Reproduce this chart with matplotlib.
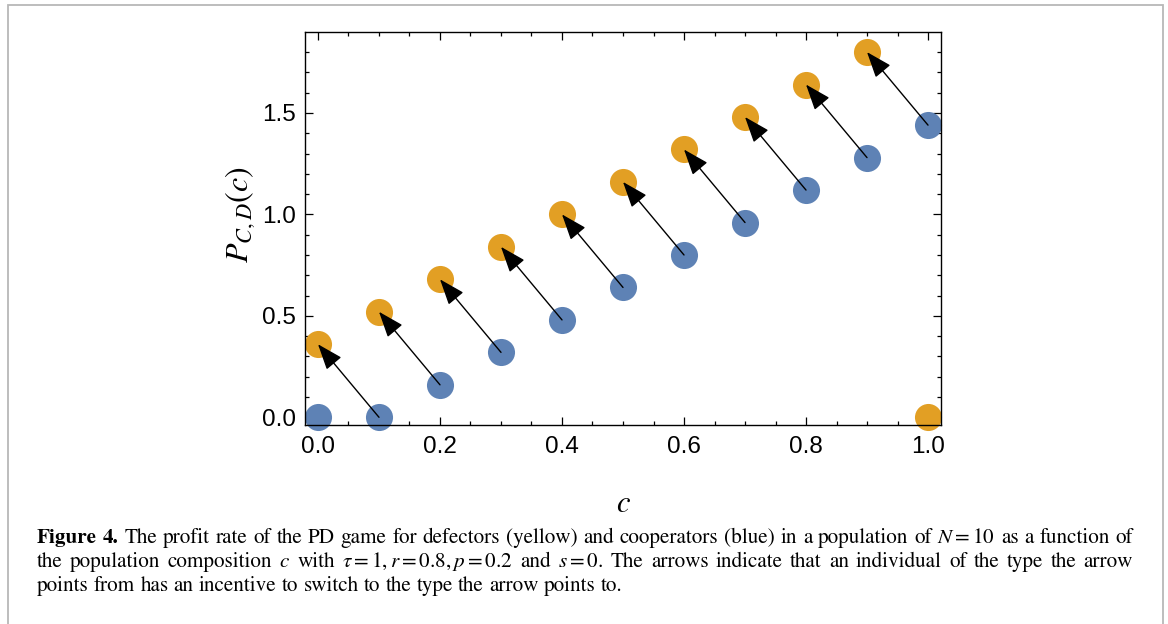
import matplotlib
matplotlib.use("Agg")
import matplotlib.pyplot as plt
from matplotlib.ticker import MultipleLocator
from matplotlib.patches import Rectangle

# ---- data ----
c_values = [0.0, 0.1, 0.2, 0.3, 0.4, 0.5, 0.6, 0.7, 0.8, 0.9, 1.0]
P_defectors = [0.36, 0.52, 0.68, 0.84, 1.00, 1.16, 1.32, 1.48, 1.64, 1.80, 0.0]
P_cooperators = [0.0, 0.0, 0.16, 0.32, 0.48, 0.64, 0.80, 0.96, 1.12, 1.28, 1.44]
x_ticks = [0.0, 0.2, 0.4, 0.6, 0.8, 1.0]
y_ticks = [0.0, 0.5, 1.0, 1.5]

yellow = "#E29F24"
blue = "#5E82B5"

plt.rcParams["mathtext.fontset"] = "stix"

W, H = 1168, 624
fig = plt.figure(figsize=(W / 100, H / 100), dpi=100)

# page frame
fig.patches.append(Rectangle((7.5 / W, -0.1), (1163 - 7.5) / W, 1.1 - 4.5 / H,
                             transform=fig.transFigure, fill=False,
                             edgecolor="#b8b8b8", lw=1.3))

ax = fig.add_axes([305 / W, 1 - 425 / H, (941 - 305) / W, (425 - 32) / H])
ax.set_xlim(-0.0213, 1.0213)
ax.set_ylim(-0.038, 1.899)

ax.plot(c_values, P_cooperators, "o", color=blue, ms=19.5, mec="none",
        clip_on=False, zorder=2)
ax.plot(c_values, P_defectors, "o", color=yellow, ms=19.5, mec="none",
        clip_on=False, zorder=2)

# arrows: cooperator at c -> defector at c-0.1
for i in range(1, len(c_values)):
    ax.annotate("", xy=(c_values[i - 1], P_defectors[i - 1]),
                xytext=(c_values[i], P_cooperators[i]),
                arrowprops=dict(arrowstyle="-|>,head_length=0.8,head_width=0.3",
                                mutation_scale=20, color="black", lw=1.0,
                                shrinkA=0, shrinkB=0),
                zorder=3, annotation_clip=False)

ax.set_xticks(x_ticks)
ax.set_yticks(y_ticks)
ax.set_xticklabels([f"{v:.1f}" for v in x_ticks])
ax.set_yticklabels([f"{v:.1f}" for v in y_ticks])
ax.xaxis.set_minor_locator(MultipleLocator(0.05))
ax.yaxis.set_minor_locator(MultipleLocator(0.1))
ax.tick_params(which="both", direction="in", top=True, right=True, width=0.9,
               color="black")
ax.tick_params(which="major", length=5.5)
ax.tick_params(which="minor", length=3.2)
ax.tick_params(axis="x", which="major", pad=8, labelsize=17.5)
ax.tick_params(axis="y", which="major", pad=6.5, labelsize=17.5)
for lab in ax.get_xticklabels() + ax.get_yticklabels():
    lab.set_family("Liberation Sans")
for s in ax.spines.values():
    s.set_linewidth(1.0)

fig.text(623 / W, 1 - 503 / H, r"$c$", fontsize=22, ha="center", va="center")
fig.text(240 / W, 1 - 215 / H, r"$P_{C,D}(c)$", fontsize=23, ha="center",
         va="center", rotation=90)

# ---- caption (justified lines) ----
cap_size = 15.2
cap_lines = [
    (["Figure", "4."], "The profit rate of the PD game for defectors (yellow) and cooperators (blue) in a population of $N=10$ as a function of", True),
    ([], r"the population composition $c$ with $\tau=1,r=0.8,p=0.2$ and $s=0$. The arrows indicate that an individual of the type the arrow", True),
    ([], "points from has an incentive to switch to the type the arrow points to.", False),
]
baselines = [543, 567, 591]
x_left, x_right = 37, 1133
renderer = fig.canvas.get_renderer()


def split_words(s):
    parts, cur, inmath = [], "", False
    for ch in s:
        if ch == "$":
            inmath = not inmath
        if ch == " " and not inmath:
            if cur:
                parts.append(cur)
            cur = ""
        else:
            cur += ch
    if cur:
        parts.append(cur)
    return parts


t1 = fig.text(0, 0, "a b", fontsize=cap_size, family="STIXGeneral")
t2 = fig.text(0, 0, "ab", fontsize=cap_size, family="STIXGeneral")
space_w = t1.get_window_extent(renderer).width - t2.get_window_extent(renderer).width
t1.remove()
t2.remove()

for (bold_words, rest, justify), yb in zip(cap_lines, baselines):
    toks = [(w, "bold") for w in bold_words] + [(p, "normal") for p in split_words(rest)]
    arts = [fig.text(0, 1 - yb / H, t, fontsize=cap_size, family="STIXGeneral",
                     weight=wgt, ha="left", va="baseline") for t, wgt in toks]
    widths = [a.get_window_extent(renderer).width for a in arts]
    if justify:
        gap = (x_right - x_left - sum(widths)) / (len(arts) - 1)
    else:
        gap = space_w
    x = x_left
    for a, w in zip(arts, widths):
        a.set_x(x / W)
        x += w + gap

fig.savefig("out.png", dpi=100)
